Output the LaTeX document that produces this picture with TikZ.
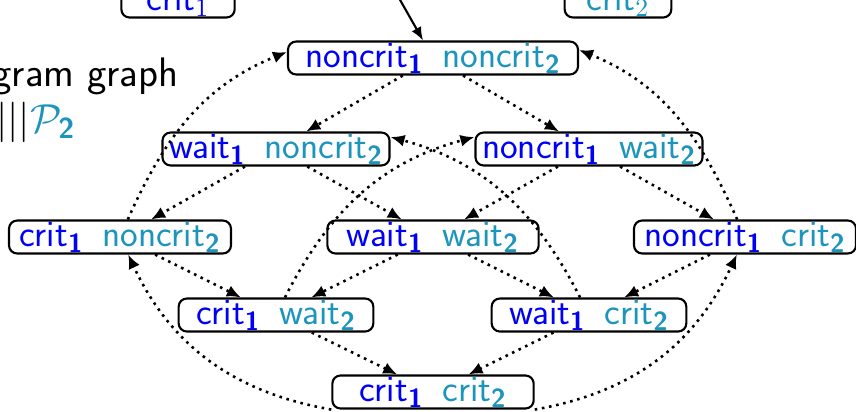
\documentclass[tikz,border=0pt]{standalone}
\usepackage{amsmath}
\usepackage{xcolor}
\usepackage{tikz}
\usetikzlibrary{arrows.meta}

\definecolor{procone}{RGB}{0,0,245}
\definecolor{proctwo}{RGB}{28,148,188}
\newcommand{\pid}[1]{\ensuremath{_{\text{\bfseries #1}}}}
\newcommand{\st}[2]{\textcolor{procone}{#1\pid{1}}\enspace\textcolor{proctwo}{#2\pid{2}}}

\begin{document}
\begin{tikzpicture}[
  x=0.015cm, y=0.015cm,
  font=\fontsize{16}{19}\selectfont\sffamily,
  state/.style={draw,line width=0.9pt,rounded corners=3.5pt,inner xsep=0.1cm,inner ysep=0pt,
    minimum width=3.33cm,minimum height=0.495cm,text height=11.2pt,text depth=2.85pt},
  tr/.style={line width=1.1pt,dotted,-{Latex[length=2.1mm,width=1.8mm]}}
]
\useasboundingbox (0,0) rectangle (856,411);
\clip (0,0) rectangle (856,411);

% what is left of the heading and of the local graphs
\node[anchor=base west,inner sep=0pt,font=\fontsize{17.6}{21}\selectfont\sffamily] (title) at (-8,324) {gram graph};
\node[anchor=base west,inner sep=0pt,font=\fontsize{17.6}{21}\selectfont\sffamily] (oper) at (-4,279) {$|||\textcolor{proctwo}{\mathcal{P}\pid{2}}$};
\node[state,minimum width=1.7cm] (critone) at (178,410) {\textcolor{procone}{crit$_1$}};
\node[state,minimum width=1.6cm] (crittwo) at (618,410) {\textcolor{proctwo}{crit$_2$}};

% states of the interleaving
\node[state,minimum width=4.35cm] (nn) at (433,353) {\st{noncrit}{noncrit}};
\node[state] (wn) at (276,262) {\st{wait}{noncrit}};
\node[state] (nw) at (589,262) {\st{noncrit}{wait}};
\node[state] (cn) at (120,174) {\st{crit}{noncrit}};
\node[state,minimum width=3.17cm] (ww) at (433,174) {\st{wait}{wait}};
\node[state] (nc) at (745,174) {\st{noncrit}{crit}};
\node[state,minimum width=2.92cm] (cw) at (276,96) {\st{crit}{wait}};
\node[state,minimum width=2.92cm] (wc) at (589,96) {\st{wait}{crit}};
\node[state,minimum width=3.02cm] (cc) at (433,19) {\st{crit}{crit}};

\coordinate (init) at (395,420);
\draw[line width=0.9pt,-{Latex[length=2mm,width=1.6mm]}] (init) -- (nn);

\draw[tr] (nn) -- (wn);
\draw[tr] (nn) -- (nw);
\draw[tr] (wn) -- (cn);
\draw[tr] (wn) -- (ww);
\draw[tr] (nw) -- (ww);
\draw[tr] (nw) -- (nc);
\draw[tr] (cn) -- (cw);
\draw[tr] (ww) -- (cw);
\draw[tr] (ww) -- (wc);
\draw[tr] (nc) -- (wc);
\draw[tr] (cw) -- (cc);
\draw[tr] (wc) -- (cc);

% leaving the critical section
\draw[tr] (cn) to[out=66,in=202] ([yshift=0.09cm]nn.west);
\draw[tr] (nc) to[out=114,in=-22] ([yshift=0.12cm]nn.east);
\draw[tr] (cw) to[out=63,in=195] ([yshift=0.18cm]nw.west);
\draw[tr] (wc) to[out=117,in=-15] ([yshift=0.18cm]wn.east);
\draw[tr] (cc.south west) to[out=170,in=-65] (cn);
\draw[tr] (cc.south east) to[out=10,in=245] (nc);
\end{tikzpicture}
\end{document}
